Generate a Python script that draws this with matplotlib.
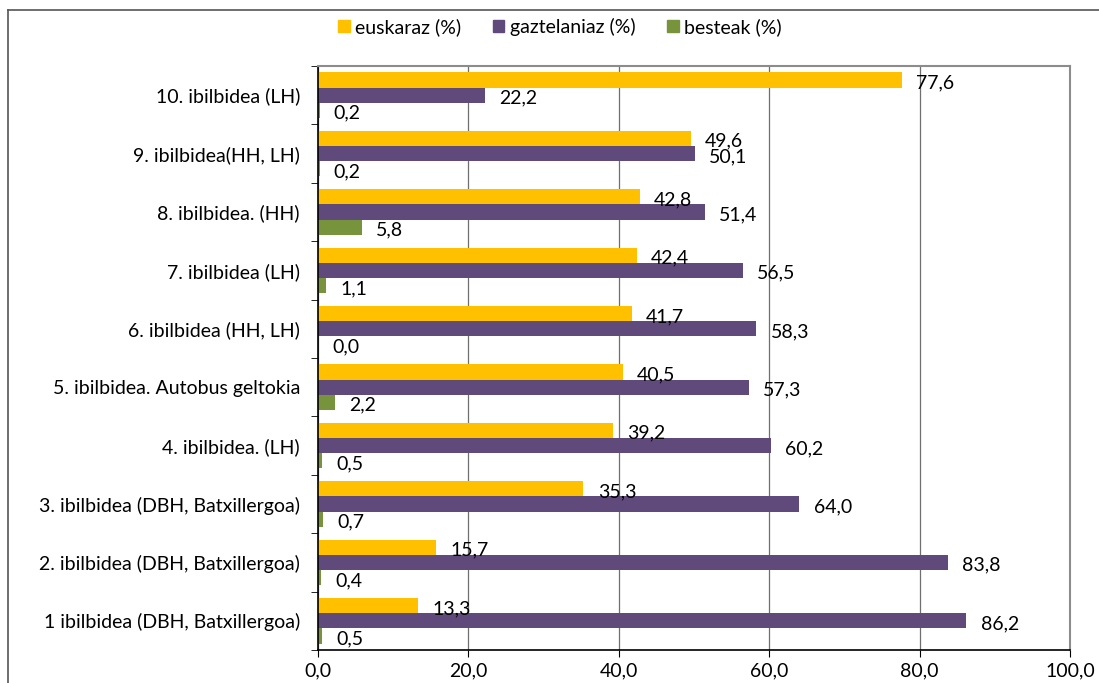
import matplotlib
matplotlib.use("Agg")
import matplotlib.pyplot as plt
import numpy as np
from matplotlib.lines import Line2D

plt.rcParams['font.family'] = ['Lato', 'DejaVu Sans']

categories = ["1 ibilbidea (DBH, Batxillergoa)", "2. ibilbidea (DBH, Batxillergoa)",
              "3. ibilbidea (DBH, Batxillergoa)", "4. ibilbidea. (LH)",
              "5. ibilbidea. Autobus geltokia", "6. ibilbidea (HH, LH)",
              "7. ibilbidea (LH)", "8. ibilbidea. (HH)", "9. ibilbidea(HH, LH)",
              "10. ibilbidea (LH)"]
euskaraz = [13.3, 15.7, 35.3, 39.2, 40.5, 41.7, 42.4, 42.8, 49.6, 77.6]
gaztelaniaz = [86.2, 83.8, 64.0, 60.2, 57.3, 58.3, 56.5, 51.4, 50.1, 22.2]
besteak = [0.5, 0.4, 0.7, 0.5, 2.2, 0.0, 1.1, 5.8, 0.2, 0.2]
series_names = ["euskaraz (%)", "gaztelaniaz (%)", "besteak (%)"]
colors = ["#FFC000", "#604A7B", "#77933C"]
xticks = [0, 20, 40, 60, 80, 100]

FS = 14

fig = plt.figure(figsize=(10.99, 6.83), dpi=100)
ax = fig.add_axes([318/1099, 1-650/683, (1070-318)/1099, (650-66)/683])

y = np.arange(len(categories))
h = 0.26
offsets = [h, 0, -h]
for vals, off, col, name in zip([euskaraz, gaztelaniaz, besteak], offsets, colors, series_names):
    ax.barh(y + off, vals, height=h, color=col, label=name)
    for yy, v in zip(y + off, vals):
        ax.text(v + 1.9, yy - 0.05, f"{v:.1f}".replace('.', ','), va='center', ha='left', fontsize=FS)

ax.set_xlim(0, 100)
ax.set_ylim(-0.5, len(categories) - 0.5)
ax.set_xticks(xticks)
ax.set_xticklabels([f"{t:.1f}".replace('.', ',') for t in xticks], fontsize=FS)
ax.set_yticks(y)
ax.set_yticklabels(categories, fontsize=FS)
ax.set_yticks(np.arange(-0.5, len(categories), 1), minor=True)
ax.tick_params(axis='y', which='major', length=0, pad=13)
ax.tick_params(axis='y', which='minor', length=5, color='black', direction='out')
ax.tick_params(axis='x', which='major', length=5, color='black', direction='out', pad=4)
ax.xaxis.grid(True, color='#6f6f6f', linewidth=0.9)
ax.set_axisbelow(True)
for s in ['top', 'right']:
    ax.spines[s].set_color('#8c8c8c')
    ax.spines[s].set_linewidth(1.5)
for s in ['left', 'bottom']:
    ax.spines[s].set_color('black')
    ax.spines[s].set_linewidth(1.2)

handles = [plt.Rectangle((0, 0), 1, 1, color=c) for c in colors]
fig.legend(handles, series_names, loc='center', bbox_to_anchor=(560/1099, 1-27/683), ncol=3,
           frameon=False, fontsize=FS, handlelength=0.6, handleheight=0.6,
           handletextpad=0.3, columnspacing=1.6)

# outer chart frame (top and left edges visible)
fig.add_artist(Line2D([8/1099, 1], [1-10/683, 1-10/683], color='#555555', lw=1.2, transform=fig.transFigure))
fig.add_artist(Line2D([8/1099, 8/1099], [0, 1-10/683], color='#555555', lw=1.2, transform=fig.transFigure))

fig.savefig("out.png", dpi=100)
